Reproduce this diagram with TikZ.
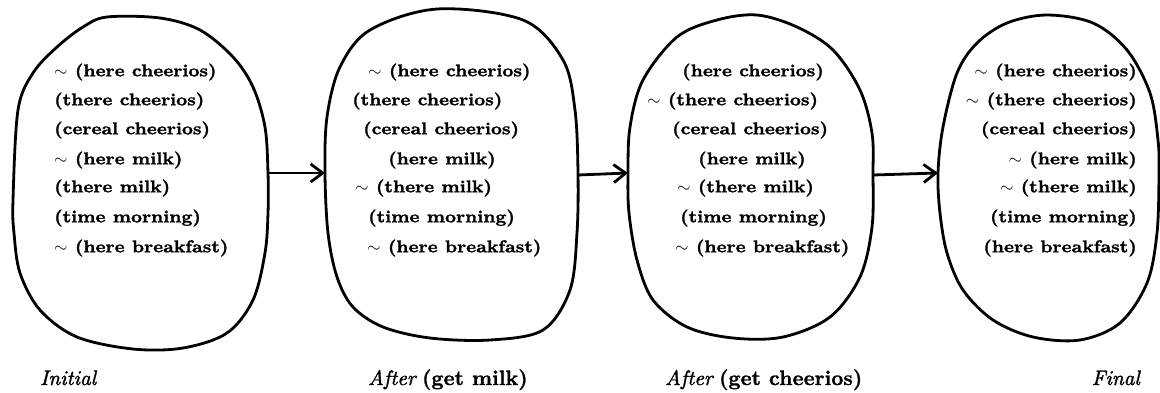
\documentclass[tikz,border=0pt]{standalone}
\usepackage{fontspec}
\usetikzlibrary{arrows.meta}
\newfontfamily\factfont{lmroman10-bold.otf}[FakeBold=1.6, FakeStretch=1.12]
\newfontfamily\capbf{lmroman10-bold.otf}[FakeBold=1.2]
\newfontfamily\capit{lmroman10-italic.otf}[FakeBold=1.6]
\begin{document}
\begin{tikzpicture}[x=1pt,y=-1pt,
  blob/.style={line width=2.8pt, line join=round},
  fact/.style={inner sep=0pt, font=\fontsize{17}{20}\factfont},
  capl/.style={inner sep=0pt, anchor=base west, font=\fontsize{21}{24}\selectfont},
  capr/.style={inner sep=0pt, anchor=base east, font=\fontsize{21}{24}\selectfont},
  arr/.style={line width=2.8pt, -{Straight Barb[length=12pt,width=18pt,line width=2.8pt]}}]
\useasboundingbox (0,0) rectangle (1160,392);
% blobs
\draw[blob] plot[smooth cycle, tension=0.55] coordinates {(107,17) (160,18) (200,30) (233,57) (253,87) (265,127) (268,173) (268,213) (265,253) (253,300) (227,333) (183,348) (133,349) (77,337) (40,310) (20,273) (14,233) (13,200) (18,110) (33,73) (57,47) (83,27)};
\draw[blob] plot[smooth cycle, tension=0.55] coordinates {(370,30) (437,9) (523,20) (563,60) (575,110) (578,173) (577,233) (570,290) (543,330) (490,340) (430,338) (383,327) (353,307) (337,277) (328,233) (325,173) (327,117) (340,67)};
\draw[blob] plot[smooth cycle, tension=0.55] coordinates {(677,37) (717,20) (757,15) (797,27) (833,50) (860,90) (872,133) (873,173) (872,227) (860,277) (830,317) (783,337) (733,338) (687,327) (653,300) (637,260) (629,213) (628,173) (630,127) (643,80)};
\draw[blob] plot[smooth cycle, tension=0.55] coordinates {(1007,23) (1047,15) (1093,23) (1127,50) (1150,93) (1158,140) (1159,173) (1157,233) (1147,283) (1120,323) (1080,340) (1033,337) (993,320) (963,290) (947,253) (940,213) (938,173) (943,127) (957,73) (977,43)};
\coordinate (b1e) at (268,173);
\coordinate (b2w) at (325,173);
\coordinate (b2e) at (578,175);
\coordinate (b3w) at (628,173);
\coordinate (b3e) at (873,175);
\coordinate (b4w) at (938,173);
\draw[arr] (b1e) -- (b2w);
\draw[arr] (b2e) -- (b3w);
\draw[arr] (b3e) -- (b4w);
% blob 1
\node[fact, anchor=west] (p1) at (54,72) {$\sim$ (here cheerios)};
\node[fact, anchor=west] (p2) at (54,101) {(there cheerios)};
\node[fact, anchor=west] (p3) at (54,130) {(cereal cheerios)};
\node[fact, anchor=west] (p4) at (54,160) {$\sim$ (here milk)};
\node[fact, anchor=west] (p5) at (54,188) {(there milk)};
\node[fact, anchor=west] (p6) at (54,218) {(time morning)};
\node[fact, anchor=west] (p7) at (54,248) {$\sim$ (here breakfast)};
% blob 2
\node[fact, anchor=west] (q1) at (368,72) {$\sim$ (here cheerios)};
\node[fact, anchor=west] (q2) at (352,101) {(there cheerios)};
\node[fact, anchor=west] (q3) at (363,130) {(cereal cheerios)};
\node[fact, anchor=west] (q4) at (388,160) {(here milk)};
\node[fact, anchor=west] (q5) at (355,188) {$\sim$ (there milk)};
\node[fact, anchor=west] (q6) at (368,218) {(time morning)};
\node[fact, anchor=west] (q7) at (367,248) {$\sim$ (here breakfast)};
% blob 3
\node[fact, anchor=west] (r1) at (682,72) {(here cheerios)};
\node[fact, anchor=west] (r2) at (647,101) {$\sim$ (there cheerios)};
\node[fact, anchor=west] (r3) at (672,130) {(cereal cheerios)};
\node[fact, anchor=west] (r4) at (698,160) {(here milk)};
\node[fact, anchor=west] (r5) at (677,188) {$\sim$ (there milk)};
\node[fact, anchor=west] (r6) at (680,218) {(time morning)};
\node[fact, anchor=west] (r7) at (675,248) {$\sim$ (here breakfast)};
% blob 4
\node[fact, anchor=east] (s1) at (1137,72) {$\sim$ (here cheerios)};
\node[fact, anchor=east] (s2) at (1137,101) {$\sim$ (there cheerios)};
\node[fact, anchor=east] (s3) at (1137,130) {(cereal cheerios)};
\node[fact, anchor=east] (s4) at (1137,160) {$\sim$ (here milk)};
\node[fact, anchor=east] (s5) at (1137,188) {$\sim$ (there milk)};
\node[fact, anchor=east] (s6) at (1137,218) {(time morning)};
\node[fact, anchor=east] (s7) at (1137,248) {(here breakfast)};
% captions
\node[capl] (c1) at (40,385) {\capit Initial};
\node[capl] (c2) at (368,385) {{\capit After} {\capbf (get milk)}};
\node[capl] (c3) at (665,385) {{\capit After} {\capbf (get cheerios)}};
\node[capr] (c4) at (1140,385) {\capit Final};
\end{tikzpicture}
\end{document}
